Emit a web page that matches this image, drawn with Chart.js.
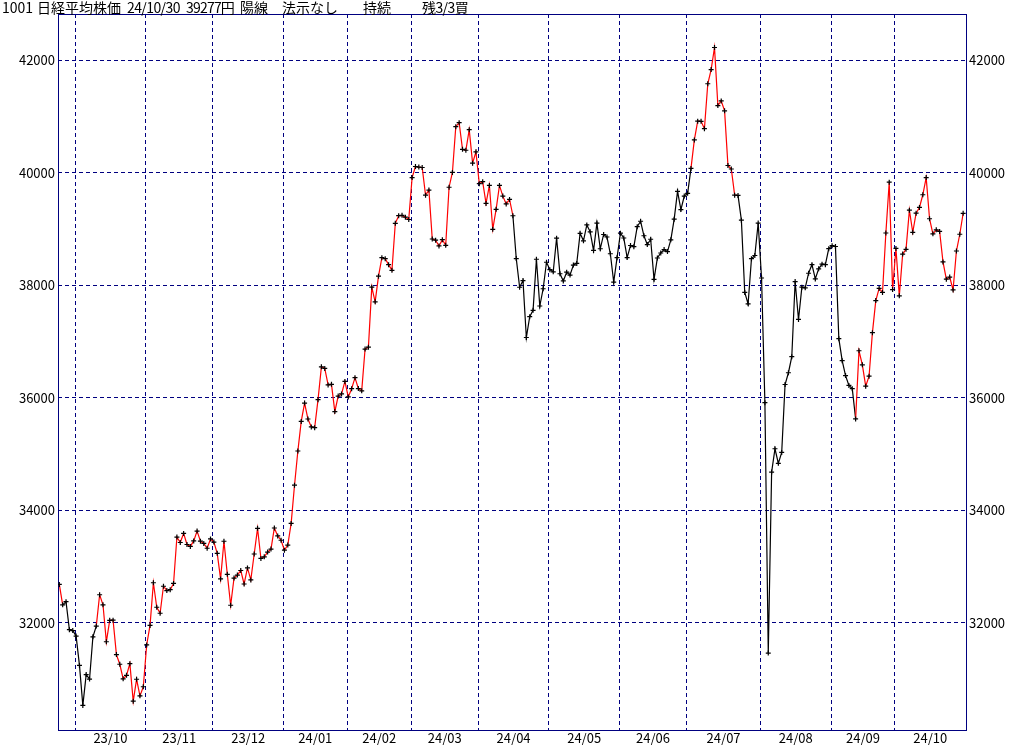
<!DOCTYPE html>
<html lang="ja">
<head>
  <meta charset="UTF-8"/>
  <title>1001 日経平均株価</title>
  <script src="https://cdn.jsdelivr.net/npm/chart.js"></script>
  <style>
    html, body { margin: 0; padding: 0; background: #fff; }
    #wrap { position: relative; width: 1024px; height: 745px; overflow: hidden; }
    canvas { position: absolute; left: 0; top: 0; }
    #head { position: absolute; left: 0; top: 0; width: 1024px; height: 14px;
            font: 14px 'Noto Sans CJK JP', sans-serif; line-height: 14px; color: #000; }
    #head span { position: absolute; top: 0; white-space: pre; }
    #head .num { letter-spacing: -0.6px; }
  </style>
</head>
<body>
<div id="wrap">
  <canvas id="chart" width="1024" height="745"></canvas>
  <div id="head">
    <span style="left:2px">1001</span>
    <span style="left:37px">日経平均株価</span>
    <span class="num" style="left:127px">24/10/30</span>
    <span class="num" style="left:186px; letter-spacing:-0.8px">39277円</span>
    <span style="left:240px">陽線</span>
    <span style="left:282px">法示なし</span>
    <span style="left:363px">持続</span>
    <span class="num" style="left:422px">残3/3買</span>
  </div>
</div>

<script>
  // months shown, and trading days in each (first one is cut at the left edge)
  const months    = ['23/09','23/10','23/11','23/12','24/01','24/02','24/03',
                     '24/04','24/05','24/06','24/07','24/08','24/09','24/10'];
  const monthDays = [5, 21, 20, 21, 19, 19, 20, 21, 21, 20, 22, 21, 19, 21];

  // daily closes, one line per month
  const closes = [
    32679, 32315, 32372, 31873, 31858,
    31760, 31238, 30527, 31075, 30995, 31747, 31937, 32495, 32316, 31659, 32040, 32042, 31431, 31259, 31000, 31062, 31270, 30602, 30992, 30697, 30859,
    31602, 31950, 32708, 32272, 32166, 32646, 32568, 32585, 32696, 33520, 33424, 33585, 33388, 33354, 33452, 33626, 33448, 33408, 33321, 33487,
    33432, 33231, 32776, 33446, 32858, 32308, 32792, 32844, 32926, 32686, 32971, 32759, 33219, 33676, 33140, 33169, 33254, 33306, 33681, 33540, 33464,
    33288, 33377, 33763, 34442, 35050, 35577, 35902, 35619, 35478, 35466, 35963, 36547, 36518, 36226, 36236, 35751, 36027, 36066, 36287,
    36011, 36158, 36354, 36161, 36120, 36863, 36897, 37964, 37703, 38158, 38487, 38470, 38364, 38262, 39099, 39234, 39240, 39208, 39166,
    39911, 40109, 40098, 40091, 39599, 39689, 38820, 38798, 38696, 38807, 38708, 39740, 40004, 40816, 40888, 40414, 40398, 40763, 40168, 40369,
    39803, 39839, 39452, 39773, 38992, 39347, 39773, 39582, 39443, 39524, 39233, 38471, 37962, 38080, 37068, 37439, 37552, 38460, 37628, 37935, 38406,
    38274, 38236, 38835, 38202, 38074, 38229, 38179, 38356, 38386, 38920, 38787, 39070, 38947, 38617, 39103, 38646, 38900, 38855, 38557, 38054, 38488,
    38923, 38837, 38490, 38704, 38684, 39038, 39135, 38877, 38720, 38815, 38102, 38482, 38571, 38633, 38596, 38805, 39173, 39667, 39342, 39583,
    39631, 40075, 40581, 40914, 40912, 40781, 41580, 41832, 42224, 41191, 41275, 41098, 40126, 40064, 39599, 39594, 39155, 37870, 37667, 38469, 38526, 39102,
    38126, 35910, 31458, 34675, 35090, 34831, 35025, 36233, 36442, 36727, 38063, 37389, 37964, 37952, 38211, 38364, 38110, 38289, 38372, 38363, 38648,
    38701, 38686, 37048, 36657, 36391, 36216, 36159, 35620, 36833, 36582, 36203, 36380, 37155, 37724, 37941, 37870, 38926, 39830, 37920,
    38652, 37809, 38552, 38636, 39333, 38938, 39278, 39381, 39606, 39911, 39180, 38911, 38982, 38955, 38412, 38105, 38143, 37914, 38606, 38904, 39277
  ];

  // segments drawn red (from day a to day b), the rest is black
  const redSpans = [[0, 1], [11, 135], [188, 202], [237, 269]];

  const yTicks = [32000, 34000, 36000, 38000, 40000, 42000];

  const NAVY = '#000080';
  const tickFont = { family: "'Noto Sans CJK JP', sans-serif", size: 13 };

  // month boundaries and label spots, in day index units
  let monthStart = [], n = 0;
  monthDays.forEach(d => { monthStart.push(n); n += d; });
  const bounds = monthStart.slice(1).map(s => s - 0.3);
  const labelPos = monthStart.slice(1).map((s, i) => (s + s + monthDays[i + 1]) / 2 - 0.3);

  const isRed = i => redSpans.some(([a, b]) => i >= a && i < b);

  const frame = {
    id: 'frame',
    beforeDatasetsDraw(chart) {
      const { ctx, chartArea: a } = chart;
      ctx.save();
      ctx.strokeStyle = NAVY;
      ctx.lineWidth = 1;
      ctx.strokeRect(Math.round(a.left) + 0.5, Math.round(a.top) + 0.5,
                     Math.round(a.right - a.left), Math.round(a.bottom - a.top));
      ctx.restore();
    }
  };

  const xMin = -0.39, xMax = 269.85;
  const yMin = 30090, yMax = 42820;

  new Chart(document.getElementById('chart'), {
    type: 'line',
    data: {
      datasets: [{
        data: closes.map((v, i) => ({ x: i, y: v })),
        borderColor: '#000',
        borderWidth: 1.2,
        tension: 0,
        pointStyle: 'cross',
        pointRadius: 2.5,
        pointHoverRadius: 2.5,
        pointBorderWidth: 1.2,
        pointBorderColor: '#000',
        segment: { borderColor: c => isRed(c.p0DataIndex) ? '#ff0000' : '#000000' }
      }]
    },
    options: {
      responsive: false,
      animation: false,
      events: [],
      layout: { padding: { top: 14, left: 0, right: 0, bottom: 0 } },
      plugins: { legend: { display: false }, tooltip: { enabled: false } },
      scales: {
        x: {
          type: 'linear', min: xMin, max: xMax,
          afterBuildTicks: s => { s.ticks = bounds.map(v => ({ value: v })); },
          ticks: { display: false },
          grid: { color: NAVY, lineWidth: 1, drawTicks: false },
          border: { display: false, dash: [4, 3] },
          afterFit: s => { s.height = 0; }
        },
        xl: {
          type: 'linear', position: 'bottom', min: xMin, max: xMax,
          afterBuildTicks: s => { s.ticks = labelPos.map(v => ({ value: v })); },
          ticks: { autoSkip: false, maxRotation: 0, padding: 0, color: '#000', font: tickFont,
                   callback: (v, i) => months[i + 1] },
          grid: { display: false, drawTicks: false },
          border: { display: false },
          afterFit: s => { s.height = 15; }
        },
        y: {
          position: 'left', min: yMin, max: yMax,
          afterBuildTicks: s => { s.ticks = yTicks.map(v => ({ value: v })); },
          ticks: { padding: 3, color: '#000', font: tickFont, callback: v => String(v) },
          grid: { color: NAVY, lineWidth: 1, drawTicks: false },
          border: { display: false, dash: [4, 3] },
          afterFit: s => { s.width = 58; }
        },
        y2: {
          position: 'right', min: yMin, max: yMax,
          afterBuildTicks: s => { s.ticks = yTicks.map(v => ({ value: v })); },
          ticks: { padding: 3, color: '#000', font: tickFont, callback: v => String(v) },
          grid: { display: false, drawTicks: false },
          border: { display: false },
          afterFit: s => { s.width = 58; }
        }
      }
    },
    plugins: [frame]
  });
</script>
</body>
</html>
